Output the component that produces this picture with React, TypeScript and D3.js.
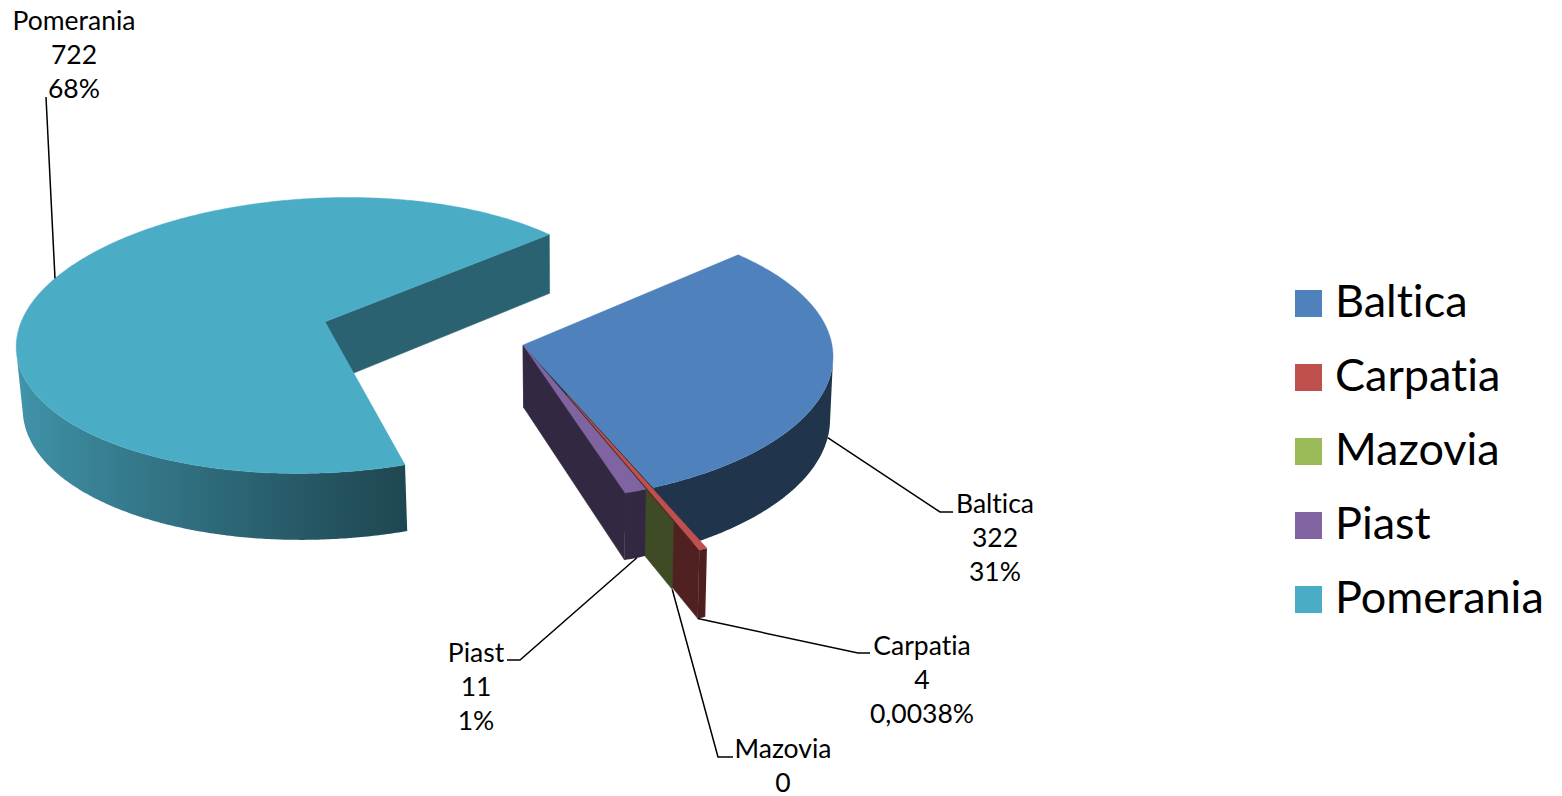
import React from "react";
import * as d3 from "d3";

// ---------------- data ----------------
const categories = ["Baltica", "Carpatia", "Mazovia", "Piast", "Pomerania"];
const values = [322, 4, 0, 11, 722];
const valueTexts = ["322", "4", "0", "11", "722"];
const percentTexts = ["31%", "0,0038%", "", "1%", "68%"];
const colors = ["#4F81BD", "#C0504D", "#9BBB59", "#8064A2", "#4BACC6"];

// ---------------- style / layout ----------------
const W = 1562;
const H = 796;
const FONT = "Lato, 'Open Sans', sans-serif";
const FIRST_SLICE_ANGLE = 47; // degrees, clockwise from 12 o'clock
const EXPLOSION: Record<string, number> = { Baltica: 0, Carpatia: 0.37, Mazovia: 0.2, Piast: 0, Pomerania: 0.675 };
const RADIAL_SHADE: Record<string, number> = { Baltica: 0.4, Carpatia: 0.41, Mazovia: 0.4, Piast: 0.4, Pomerania: 0.57 };
const DRAW_ORDER = ["Pomerania", "Baltica", "Carpatia", "Mazovia", "Piast"];
// perspective camera (pie radius = 1)
const CAMERA = { elevation: 27.2, distance: 8.89, focal: 2747, eyeU: 0.18, originX: 523, originY: 345, thickness: 0.23 };

// label layout: text centre x, first baseline y, elbow of leader, stub length, anchor on slice (t along arc, zf down the wall)
const LABELS: Record<string, { x: number; y: number; ex: number; ey: number; stub: number; t: number; zf: number }> = {
  Baltica: { x: 995, y: 513, ex: 940, ey: 512, stub: 13, t: 0.5, zf: 1 },
  Carpatia: { x: 922, y: 655, ex: 858, ey: 653, stub: 12, t: 1, zf: 1 },
  Mazovia: { x: 783, y: 758, ex: 718, ey: 757, stub: 15, t: 0.5, zf: 1 },
  Piast: { x: 476, y: 662, ex: 520, ey: 660, stub: -13, t: 0.4, zf: 1 },
  Pomerania: { x: 74, y: 30, ex: 46, ey: 97, stub: 0, t: 0.52, zf: 0 },
};
const LINE_H = 34;
const LABEL_SIZE = 26.5;
const LEGEND = { x: 1295, y: 290, box: 27, gap: 74, textX: 1335, size: 45 };

const DEG = Math.PI / 180;

function shade(color: string, k: number) {
  const c = d3.rgb(color);
  return d3.rgb(c.r * k, c.g * k, c.b * k).formatHex();
}
function wallShade(phi: number) {
  return Math.max(0.4, Math.min(0.88, 0.88 - 0.357 * (Math.sin(phi) + 1)));
}

export default function App() {
  const a = CAMERA.elevation * DEG;
  const s = Math.sin(a);
  const c = Math.cos(a);
  const D = CAMERA.distance;
  const F = CAMERA.focal;
  const U0 = CAMERA.eyeU;
  const X0 = CAMERA.originX + (F * U0) / D;
  const Y0 = CAMERA.originY;
  const h = CAMERA.thickness;
  const eye = [U0, -D * c, D * s];
  const project = (u: number, v: number, z: number): [number, number] => {
    const depth = D + v * c - z * s;
    return [X0 + (F * (u - U0)) / depth, Y0 - (F * (v * s + z * c)) / depth];
  };
  const facing = (n: number[], p: number[]) =>
    n[0] * (eye[0] - p[0]) + n[1] * (eye[1] - p[1]) + n[2] * (eye[2] - p[2]) > 0;
  const line = d3.line();
  const poly = (pts: [number, number][]) => (line(pts) || "") + "Z";

  const arcs = d3
    .pie<number>()
    .sort(null)
    .value((d) => d)
    .startAngle(FIRST_SLICE_ANGLE * DEG)
    .endAngle(FIRST_SLICE_ANGLE * DEG + 2 * Math.PI)(values);

  const slices = categories.map((name, i) => {
    const a0 = arcs[i].startAngle;
    const a1 = arcs[i].endAngle;
    const mid = (a0 + a1) / 2;
    const e = EXPLOSION[name];
    const ou = e * Math.sin(mid);
    const ov = e * Math.cos(mid);
    const rim = (phi: number, z: number) => project(ou + Math.sin(phi), ov + Math.cos(phi), z);
    const n = Math.max(1, Math.ceil((a1 - a0) / (0.5 * DEG)));
    const angs = d3.range(n + 1).map((k) => a0 + ((a1 - a0) * k) / n);
    return { name, i, a0, a1, mid, ou, ov, rim, angs, color: colors[i] };
  });
  const byName = (nm: string) => slices.find((sl) => sl.name === nm)!;

  const defs: JSX.Element[] = [];
  const sideFaces: JSX.Element[] = [];
  const topFaces: JSX.Element[] = [];
  DRAW_ORDER.forEach((nm) => {
    const sl = byName(nm);
    const { ou, ov, rim, angs, a0, a1, color } = sl;
    // outer wall: contiguous runs of camera-facing segments
    const runs: number[][] = [];
    let cur: number[] = [];
    for (let k = 0; k < angs.length - 1; k++) {
      const p0 = angs[k];
      const p1 = angs[k + 1];
      const pm = (p0 + p1) / 2;
      const vis =
        p1 - p0 > 1e-9 &&
        facing([Math.sin(pm), Math.cos(pm), 0], [ou + Math.sin(pm), ov + Math.cos(pm), -h / 2]);
      if (vis) {
        if (cur.length === 0) cur.push(p0);
        cur.push(p1);
      } else if (cur.length) {
        runs.push(cur);
        cur = [];
      }
    }
    if (cur.length) runs.push(cur);
    runs.forEach((run, r) => {
      const top = run.map((p) => rim(p, 0));
      const bot = run.map((p) => rim(p, -h)).reverse();
      const xs = top.map((p) => p[0]);
      const xmin = d3.min(xs)!;
      const xmax = d3.max(xs)!;
      const id = `wall-${nm}-${r}`;
      const stops = run
        .map((p, k) => ({ x: xs[k], col: shade(color, wallShade(p)) }))
        .sort((p, q) => p.x - q.x);
      defs.push(
        <linearGradient key={id} id={id} gradientUnits="userSpaceOnUse" x1={xmin} y1={0} x2={Math.max(xmax, xmin + 0.01)} y2={0}>
          {stops.map((st, k) => (
            <stop key={k} offset={xmax - xmin > 0.01 ? (st.x - xmin) / (xmax - xmin) : 0} stopColor={st.col} />
          ))}
        </linearGradient>
      );
      sideFaces.push(<path key={id} d={poly([...top, ...bot])} fill={`url(#${id})`} />);
    });
    // radial faces
    [
      { phi: a0, sign: -1 },
      { phi: a1, sign: 1 },
    ].forEach(({ phi, sign }, j) => {
      const nrm = [sign * Math.cos(phi), -sign * Math.sin(phi), 0];
      if (!facing(nrm, [ou, ov, -h / 2])) return;
      const fill = shade(color, RADIAL_SHADE[nm]);
      sideFaces.push(
        <path
          key={`r-${nm}-${j}`}
          d={poly([project(ou, ov, 0), rim(phi, 0), rim(phi, -h), project(ou, ov, -h)])}
          fill={fill}
          stroke={fill}
          strokeWidth={0.5}
        />
      );
    });
    // top face
    if (a1 - a0 > 1e-9) {
      topFaces.push(
        <path
          key={`t-${nm}`}
          d={poly([project(ou, ov, 0), ...angs.map((p) => rim(p, 0))])}
          fill={color}
          stroke={color}
          strokeWidth={0.4}
        />
      );
    }
  });

  const labels = slices.map((sl) => {
    const L = LABELS[sl.name];
    const phi = sl.a0 + (sl.a1 - sl.a0) * L.t;
    const anchor = sl.rim(phi, -L.zf * h);
    const pts: [number, number][] = [anchor, [L.ex, L.ey]];
    if (L.stub !== 0) pts.push([L.ex + L.stub, L.ey]);
    const lines = [sl.name, valueTexts[sl.i], percentTexts[sl.i]].filter((t) => t !== "");
    return (
      <g key={`l-${sl.name}`}>
        <path d={d3.line()(pts) || ""} fill="none" stroke="#000" strokeWidth={1.5} />
        {lines.map((t, k) => (
          <text
            key={k}
            x={L.x}
            y={L.y + k * LINE_H}
            textAnchor="middle"
            fontFamily={FONT}
            fontSize={LABEL_SIZE}
            fill="#000"
            style={{ fontVariantLigatures: "none" }}
          >
            {t}
          </text>
        ))}
      </g>
    );
  });

  const legend = categories.map((name, i) => (
    <g key={`lg-${name}`}>
      <rect x={LEGEND.x} y={LEGEND.y + i * LEGEND.gap} width={LEGEND.box} height={LEGEND.box} fill={colors[i]} />
      <text
        x={LEGEND.textX}
        y={LEGEND.y + LEGEND.box + i * LEGEND.gap}
        fontFamily={FONT}
        fontSize={LEGEND.size}
        fill="#000"
        style={{ fontVariantLigatures: "none" }}
      >
        {name}
      </text>
    </g>
  ));

  return (
    <svg
      width={W}
      height={H}
      viewBox={`0 0 ${W} ${H}`}
      style={{ position: "absolute", left: 0, top: 0, background: "#fff" }}
    >
      <defs>{defs}</defs>
      <rect width={W} height={H} fill="#fff" />
      {sideFaces}
      {topFaces}
      {labels}
      {legend}
    </svg>
  );
}
